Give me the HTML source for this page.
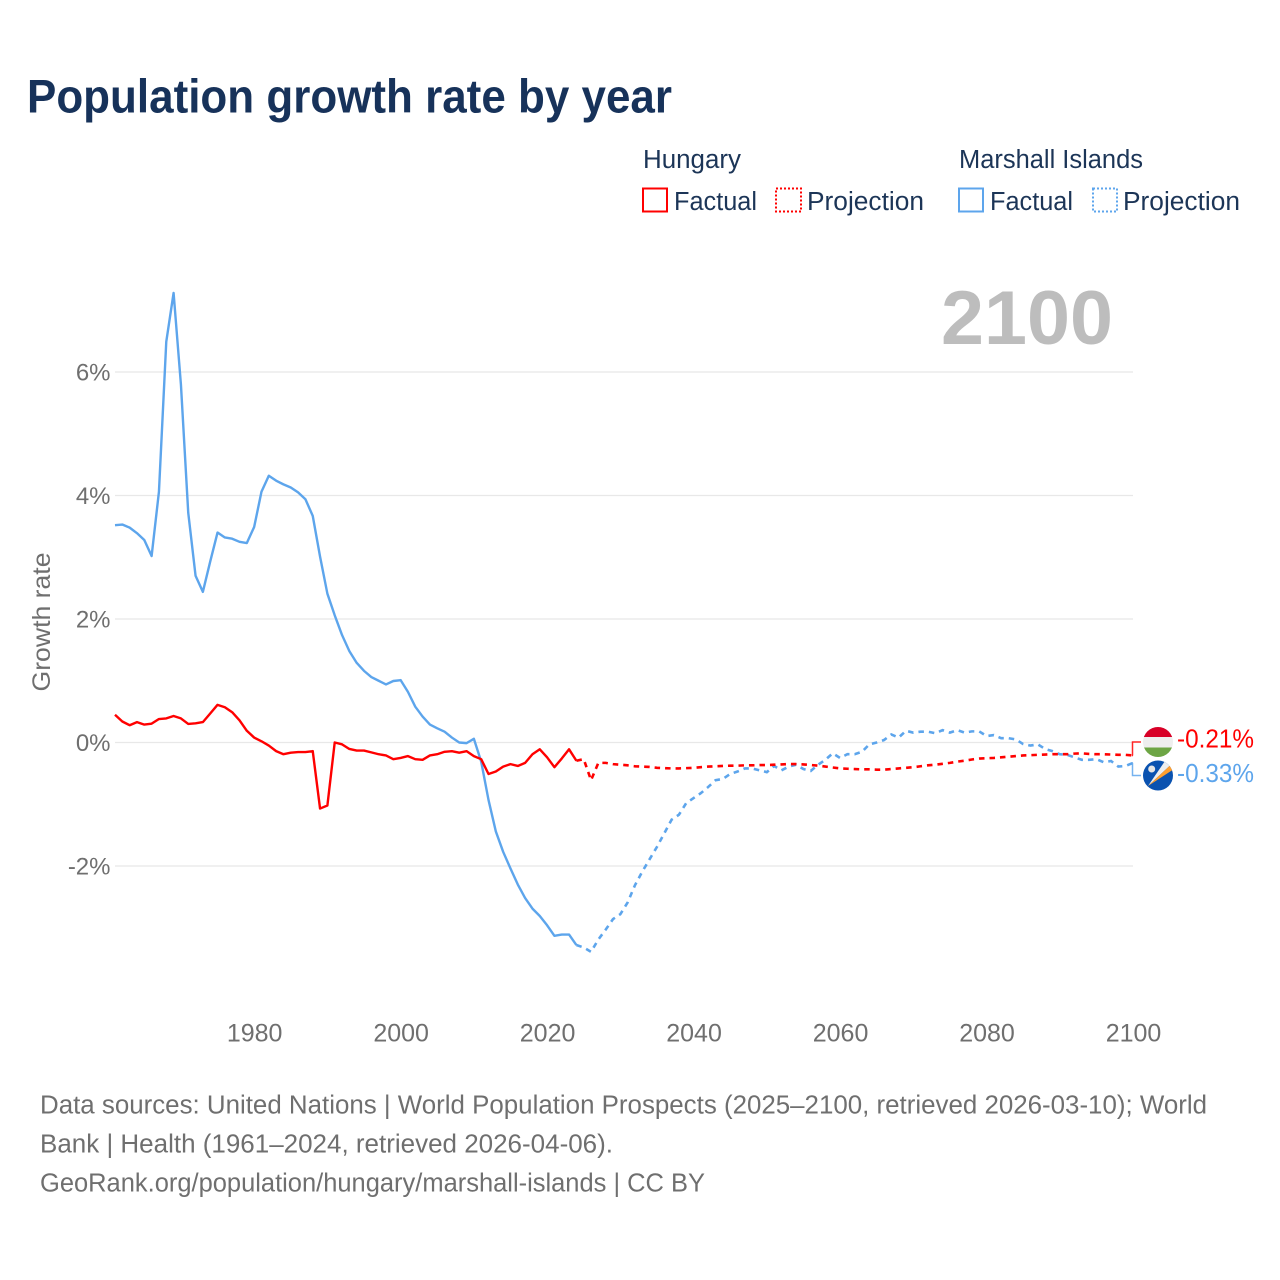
<!DOCTYPE html>
<html lang="en">
<head>
<meta charset="utf-8">
<title>Population growth rate by year</title>
<style>
html,body{margin:0;padding:0;background:#fff;width:1280px;height:1280px;overflow:hidden}
svg{display:block}
text{font-family:"Liberation Sans",sans-serif}
</style>
</head>
<body>
<svg id="chart" xmlns="http://www.w3.org/2000/svg" width="1280" height="1280" viewBox="0 0 1280 1280">
  <rect x="0" y="0" width="1280" height="1280" fill="#fff"/>
  <text x="27" y="112.500" font-size="47" font-weight="700" fill="#17325a" textLength="645" lengthAdjust="spacingAndGlyphs">Population growth rate by year</text>

  <g font-size="25.5" fill="#1c3557">
    <text x="643" y="168" textLength="98" lengthAdjust="spacingAndGlyphs">Hungary</text>
    <text x="959" y="168" textLength="184" lengthAdjust="spacingAndGlyphs">Marshall Islands</text>

    <rect x="643" y="188.500" width="24" height="23" fill="none" stroke="#ff0000" stroke-width="2"/>
    <text x="674" y="210" textLength="83" lengthAdjust="spacingAndGlyphs">Factual</text>
    <rect x="776" y="188.500" width="25" height="23" fill="none" stroke="#ff0000" stroke-width="2" stroke-dasharray="2 2"/>
    <text x="807" y="210" textLength="117" lengthAdjust="spacingAndGlyphs">Projection</text>

    <rect x="959" y="188.500" width="24" height="23" fill="none" stroke="#5da5ec" stroke-width="2"/>
    <text x="990" y="210" textLength="83" lengthAdjust="spacingAndGlyphs">Factual</text>
    <rect x="1093" y="188.500" width="24" height="23" fill="none" stroke="#5da5ec" stroke-width="2" stroke-dasharray="2 2"/>
    <text x="1123" y="210" textLength="117" lengthAdjust="spacingAndGlyphs">Projection</text>
  </g>

  <text x="941" y="344" font-size="76" font-weight="700" fill="#bdbdbd" textLength="172" lengthAdjust="spacingAndGlyphs">2100</text>

  <g id="grid"></g>
  <g id="ylabels"></g>
  <g id="xlabels"></g>
  <text transform="translate(50,622) rotate(-90)" text-anchor="middle" font-size="25" fill="#6f6f6f" textLength="139" lengthAdjust="spacingAndGlyphs">Growth rate</text>

  <g id="series"></g>
  <g id="connectors"></g>

  <defs>
    <clipPath id="clipHu"><circle cx="1158" cy="742" r="15"/></clipPath>
    <clipPath id="clipMh"><circle cx="1158" cy="775.500" r="15"/></clipPath>
  </defs>
  <g clip-path="url(#clipHu)">
    <rect x="1143" y="727" width="30" height="10" fill="#d80027"/>
    <rect x="1143" y="737" width="30" height="10.500" fill="#eeeeee"/>
    <rect x="1143" y="747.500" width="30" height="10" fill="#6da544"/>
  </g>
  <g clip-path="url(#clipMh)">
    <rect x="1143" y="760" width="30" height="31" fill="#0a52b0"/>
    <polygon points="1148,786 1165,761 1170,765.500" fill="#eeeeee"/>
    <polygon points="1148,786 1170,765.500 1172.500,770" fill="#ff9f2e"/>
    <circle cx="1151.700" cy="769" r="3.500" fill="#e6e6e6"/>
  </g>
  <g id="endlabels"></g>

  <g font-size="25.500" fill="#6f6f6f">
    <text x="40" y="1113.500" textLength="1167" lengthAdjust="spacingAndGlyphs">Data sources: United Nations | World Population Prospects (2025–2100, retrieved 2026-03-10); World</text>
    <text x="40" y="1152.500" textLength="573" lengthAdjust="spacingAndGlyphs">Bank | Health (1961–2024, retrieved 2026-04-06).</text>
    <text x="40" y="1191.500" textLength="665" lengthAdjust="spacingAndGlyphs">GeoRank.org/population/hungary/marshall-islands | CC BY</text>
  </g>
</svg>
<script>
const xTickYears = [1980, 2000, 2020, 2040, 2060, 2080, 2100];
const yTickValues = [6, 4, 2, 0, -2];
const factualStartYear = 1961;
const projectionStartYear = 2024;
const hungaryFactual = [
  0.45,0.34,0.28,0.33,0.29,0.305,0.38,0.39,0.43,0.39,
  0.30,0.31,0.33,0.47,0.61,0.57,0.49,0.36,0.19,0.08,
  0.02,-0.05,-0.14,-0.19,-0.165,-0.155,-0.155,-0.14,-1.07,-1.02,
  0,-0.03,-0.105,-0.13,-0.13,-0.16,-0.19,-0.21,-0.27,-0.25,
  -0.22,-0.27,-0.28,-0.21,-0.19,-0.15,-0.14,-0.165,-0.14,-0.22,
  -0.27,-0.51,-0.47,-0.39,-0.35,-0.38,-0.33,-0.19,-0.11,-0.24,
  -0.40,-0.26,-0.11,-0.295
];
const hungaryProjection = [
  -0.295,-0.27,-0.61,-0.33,-0.33,-0.35,-0.36,-0.37,-0.385,-0.39,
  -0.395,-0.41,-0.415,-0.42,-0.42,-0.415,-0.41,-0.40,-0.39,-0.385,
  -0.38,-0.375,-0.375,-0.37,-0.37,-0.365,-0.365,-0.36,-0.355,-0.35,
  -0.35,-0.355,-0.365,-0.375,-0.39,-0.405,-0.42,-0.425,-0.43,-0.435,
  -0.435,-0.44,-0.44,-0.43,-0.42,-0.41,-0.40,-0.385,-0.37,-0.36,
  -0.345,-0.33,-0.31,-0.295,-0.275,-0.26,-0.255,-0.25,-0.24,-0.23,
  -0.22,-0.21,-0.205,-0.20,-0.195,-0.19,-0.19,-0.19,-0.18,-0.175,
  -0.185,-0.19,-0.19,-0.195,-0.20,-0.20,-0.21
];
const marshallFactual = [
  3.52,3.53,3.48,3.39,3.28,3.02,4.06,6.49,7.28,5.80,
  3.72,2.70,2.44,2.93,3.40,3.32,3.30,3.25,3.23,3.49,
  4.06,4.32,4.24,4.18,4.13,4.05,3.94,3.67,3.01,2.41,
  2.06,1.74,1.48,1.29,1.16,1.06,1.00,0.94,0.996,1.01,
  0.82,0.58,0.42,0.29,0.23,0.175,0.08,0.00,-0.01,0.06,
  -0.31,-0.93,-1.44,-1.77,-2.04,-2.30,-2.52,-2.69,-2.81,-2.96,
  -3.13,-3.11,-3.11,-3.28
];
const marshallProjection = [
  -3.28,-3.32,-3.39,-3.19,-3.03,-2.86,-2.78,-2.59,-2.31,-2.09,
  -1.89,-1.69,-1.47,-1.25,-1.17,-0.98,-0.90,-0.82,-0.72,-0.61,
  -0.59,-0.51,-0.47,-0.42,-0.42,-0.45,-0.48,-0.38,-0.45,-0.39,
  -0.36,-0.43,-0.46,-0.36,-0.28,-0.175,-0.25,-0.19,-0.19,-0.15,
  -0.03,0.00,0.04,0.13,0.08,0.19,0.16,0.175,0.175,0.15,
  0.20,0.16,0.20,0.16,0.18,0.18,0.105,0.12,0.07,0.07,
  0.05,-0.025,-0.05,-0.03,-0.105,-0.14,-0.19,-0.20,-0.24,-0.28,
  -0.28,-0.27,-0.32,-0.30,-0.39,-0.38,-0.33
];

const SVGNS = 'http://www.w3.org/2000/svg';
const RED = '#ff0000';
const BLUE = '#5da5ec';
const xScale = function (year) { return 115 + (year - 1961) * (1133 - 115) / (2100 - 1961); };
const yScale = function (v) { return 742.5 - v * 61.75; };
function make(tag, attrs, parent, txt) {
  const el = document.createElementNS(SVGNS, tag);
  Object.keys(attrs).forEach(function (k) { el.setAttribute(k, attrs[k]); });
  if (txt !== undefined) el.textContent = txt;
  parent.appendChild(el);
  return el;
}
function linePoints(values, startYear) {
  return values.map(function (v, i) {
    return xScale(startYear + i).toFixed(2) + ',' + yScale(v).toFixed(2);
  }).join(' ');
}

const grid = document.getElementById('grid');
const ylabels = document.getElementById('ylabels');
const xlabels = document.getElementById('xlabels');
yTickValues.forEach(function (v) {
  const gl = make('line', { x1: 115, x2: 1133, y1: yScale(v), y2: yScale(v), stroke: '#e8e8e8', 'stroke-width': 1.2 }, grid);
  
  
  const t = make('text', { x: 110.5, y: yScale(v) + 8.5, 'text-anchor': 'end', 'font-size': 24, fill: '#6f6f6f' }, ylabels, v + '%');
  
  
});
xTickYears.forEach(function (y) {
  const t = make('text', { x: xScale(y) + 0.5, y: 1041.5, 'text-anchor': 'middle', 'font-size': 25, fill: '#6f6f6f' }, xlabels, String(y));
  
  
});

const series = document.getElementById('series');
const lineMf = make('polyline', { points: linePoints(marshallFactual, factualStartYear), fill: 'none', stroke: BLUE, 'stroke-width': 2.4, 'stroke-linejoin': 'round' }, series);


const lineMp = make('polyline', { points: linePoints(marshallProjection, projectionStartYear), fill: 'none', stroke: BLUE, 'stroke-width': 2.6, 'stroke-dasharray': '5.5 5' }, series);


const lineHf = make('polyline', { points: linePoints(hungaryFactual, factualStartYear), fill: 'none', stroke: RED, 'stroke-width': 2.4, 'stroke-linejoin': 'round' }, series);


const lineHp = make('polyline', { points: linePoints(hungaryProjection, projectionStartYear), fill: 'none', stroke: RED, 'stroke-width': 2.6, 'stroke-dasharray': '5.5 5' }, series);



const connectors = document.getElementById('connectors');
const huLast = hungaryProjection[hungaryProjection.length - 1];
const mhLast = marshallProjection[marshallProjection.length - 1];
const endX = xScale(2100);
const conHu = make('polyline', { points: endX + ',' + yScale(huLast) + ' ' + (endX - 0.5) + ',' + yScale(huLast) + ' ' + (endX - 0.5) + ',742 1141,742', fill: 'none', stroke: RED, 'stroke-width': 1.5, opacity: 0.85 }, connectors);


const conMh = make('polyline', { points: endX + ',' + yScale(mhLast) + ' ' + (endX - 0.5) + ',' + yScale(mhLast) + ' ' + (endX - 0.5) + ',775.5 1141,775.5', fill: 'none', stroke: BLUE, 'stroke-width': 1.5, opacity: 0.85 }, connectors);



const endlabels = document.getElementById('endlabels');
const lblHu = make('text', { x: 1177, y: 747.5, 'font-size': 25.5, fill: RED, textLength: 77, lengthAdjust: 'spacingAndGlyphs' }, endlabels, huLast.toFixed(2) + '%');


const lblMh = make('text', { x: 1177, y: 782, 'font-size': 25.5, fill: BLUE, textLength: 77, lengthAdjust: 'spacingAndGlyphs' }, endlabels, mhLast.toFixed(2) + '%');


</script>
</body>
</html>
